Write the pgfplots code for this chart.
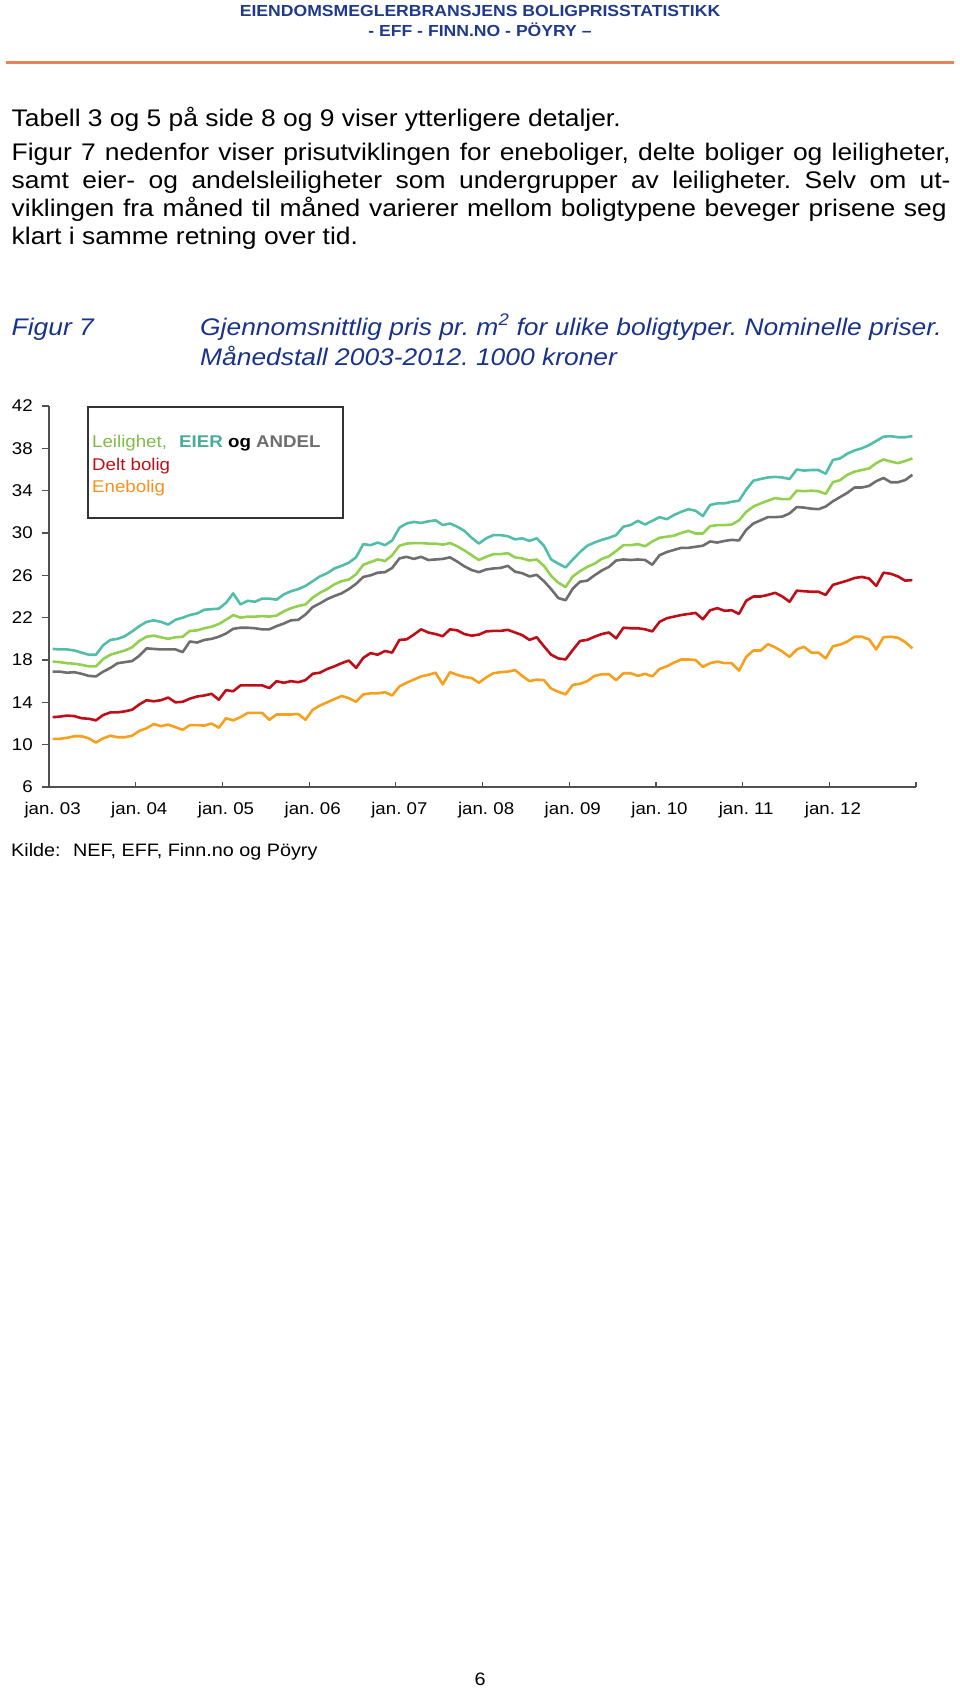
\documentclass[border=0pt]{standalone}
\usepackage{fontspec}
\setmainfont[FakeStretch=1.1]{Liberation Sans}
\usepackage{pgfplots}
\usepackage{pgfplotstable}
\pgfplotsset{compat=1.18}
\frenchspacing

\definecolor{hdrblue}{RGB}{31,58,140}
\definecolor{capblue}{RGB}{25,50,140}
\definecolor{rulecol}{RGB}{232,130,90}
\definecolor{axgray}{RGB}{80,80,80}
\definecolor{eiercol}{RGB}{82,190,170}
\definecolor{leilcol}{RGB}{146,208,80}
\definecolor{andelcol}{RGB}{110,110,110}
\definecolor{deltcol}{RGB}{190,15,25}
\definecolor{enecol}{RGB}{247,160,30}

% month index (0 = jan. 03), 1000 kr per m2
\pgfplotstableread{
m eier leil andel delt ene
0 19.05 17.85 16.9 12.6 10.55
1 19.0 17.8 16.9 12.65 10.55
2 19.0 17.7 16.8 12.75 10.65
3 18.9 17.65 16.85 12.7 10.8
4 18.7 17.55 16.7 12.5 10.8
5 18.5 17.4 16.5 12.45 10.6
6 18.5 17.4 16.45 12.3 10.2
7 19.4 18.1 16.9 12.8 10.6
8 19.9 18.5 17.25 13.05 10.85
9 20.0 18.7 17.7 13.05 10.7
10 20.25 18.9 17.8 13.15 10.7
11 20.7 19.2 17.9 13.3 10.85
12 21.2 19.8 18.4 13.8 11.3
13 21.6 20.2 19.1 14.2 11.55
14 21.75 20.3 19.05 14.1 11.95
15 21.6 20.15 19.0 14.2 11.75
16 21.35 20.0 19.0 14.45 11.9
17 21.8 20.15 19.0 14.0 11.65
18 22.0 20.2 18.75 14.05 11.4
19 22.25 20.75 19.75 14.35 11.85
20 22.4 20.8 19.65 14.55 11.85
21 22.75 21.0 19.9 14.65 11.8
22 22.8 21.15 20.0 14.8 12.0
23 22.85 21.4 20.2 14.25 11.6
24 23.4 21.8 20.5 15.15 12.5
25 24.3 22.25 20.95 15.05 12.3
26 23.25 22.0 21.05 15.6 12.6
27 23.6 22.1 21.05 15.6 13.0
28 23.5 22.1 21.0 15.6 13.0
29 23.8 22.15 20.9 15.6 13.0
30 23.8 22.1 20.9 15.35 12.35
31 23.7 22.2 21.2 16.0 12.85
32 24.2 22.6 21.45 15.85 12.85
33 24.5 22.9 21.75 16.0 12.85
34 24.7 23.1 21.8 15.9 12.9
35 25.0 23.25 22.3 16.1 12.35
36 25.45 23.9 23.0 16.7 13.3
37 25.9 24.35 23.35 16.8 13.7
38 26.2 24.7 23.75 17.15 14.0
39 26.65 25.15 24.05 17.4 14.3
40 26.9 25.45 24.3 17.7 14.6
41 27.2 25.6 24.7 17.95 14.4
42 27.7 26.1 25.2 17.25 14.05
43 28.95 27.0 25.85 18.2 14.75
44 28.85 27.25 26.0 18.65 14.85
45 29.1 27.5 26.25 18.5 14.85
46 28.85 27.35 26.3 18.85 14.95
47 29.3 27.9 26.7 18.7 14.65
48 30.5 28.8 27.6 19.9 15.5
49 30.9 29.0 27.75 19.95 15.85
50 31.05 29.05 27.55 20.4 16.15
51 30.95 29.05 27.75 20.9 16.45
52 31.1 29.0 27.45 20.6 16.6
53 31.2 29.0 27.5 20.45 16.8
54 30.75 28.9 27.55 20.25 15.7
55 30.9 29.05 27.7 20.9 16.85
56 30.6 28.75 27.3 20.8 16.6
57 30.2 28.35 26.85 20.45 16.4
58 29.55 27.9 26.5 20.3 16.3
59 29.0 27.45 26.3 20.4 15.85
60 29.5 27.75 26.55 20.7 16.35
61 29.8 28.0 26.65 20.75 16.75
62 29.8 28.0 26.7 20.75 16.85
63 29.7 28.1 26.9 20.85 16.9
64 29.4 27.7 26.35 20.6 17.05
65 29.5 27.6 26.2 20.35 16.5
66 29.25 27.4 25.9 19.9 16.0
67 29.5 27.5 26.05 20.15 16.15
68 28.8 26.9 25.45 19.3 16.1
69 27.5 25.95 24.7 18.5 15.3
70 27.1 25.3 23.85 18.15 15.0
71 26.75 24.9 23.65 18.05 14.75
72 27.5 25.9 24.75 18.95 15.65
73 28.2 26.4 25.4 19.8 15.75
74 28.8 26.8 25.5 19.9 16.0
75 29.1 27.1 26.0 20.2 16.5
76 29.35 27.55 26.45 20.45 16.65
77 29.55 27.8 26.8 20.6 16.65
78 29.8 28.3 27.4 20.05 16.1
79 30.6 28.85 27.5 21.05 16.75
80 30.75 28.85 27.45 21.0 16.75
81 31.15 28.95 27.5 21.0 16.5
82 30.8 28.75 27.45 20.9 16.7
83 31.15 29.2 27.0 20.7 16.45
84 31.5 29.55 27.9 21.6 17.15
85 31.3 29.65 28.2 21.95 17.4
86 31.7 29.75 28.4 22.1 17.75
87 32.0 30.0 28.6 22.25 18.05
88 32.25 30.2 28.6 22.35 18.05
89 32.1 29.95 28.7 22.45 18.0
90 31.6 29.95 28.8 21.85 17.35
91 32.65 30.65 29.2 22.7 17.7
92 32.8 30.75 29.1 22.9 17.85
93 32.8 30.75 29.25 22.65 17.7
94 32.95 30.8 29.35 22.7 17.7
95 33.05 31.2 29.3 22.35 17.0
96 34.1 32.0 30.3 23.6 18.3
97 34.95 32.5 30.9 24.0 18.9
98 35.1 32.8 31.2 24.0 18.9
99 35.25 33.05 31.5 24.15 19.5
100 35.3 33.3 31.5 24.35 19.2
101 35.25 33.2 31.55 24.0 18.8
102 35.1 33.2 31.85 23.5 18.3
103 36.0 34.0 32.45 24.55 19.0
104 35.9 33.95 32.4 24.5 19.25
105 35.95 34.0 32.3 24.45 18.7
106 35.95 33.95 32.25 24.45 18.7
107 35.6 33.7 32.5 24.15 18.15
108 36.9 34.8 33.0 25.1 19.3
109 37.05 35.0 33.4 25.3 19.45
110 37.5 35.5 33.8 25.5 19.75
111 37.8 35.8 34.3 25.75 20.2
112 38.0 35.95 34.3 25.85 20.2
113 38.3 36.1 34.45 25.7 19.95
114 38.7 36.6 34.9 25.0 19.0
115 39.1 36.95 35.2 26.25 20.15
116 39.15 36.75 34.8 26.15 20.2
117 39.05 36.6 34.8 25.9 20.1
118 39.05 36.8 35.0 25.5 19.7
119 39.15 37.05 35.5 25.55 19.1
}\prisdata

\newcommand\bodyfont{\fontsize{24}{27.8}\selectfont}
\newcommand\tickfont{\fontsize{17}{20}\selectfont}

\begin{document}
\begin{tikzpicture}[x=1pt,y=-1pt]
\path[use as bounding box] (0,0) rectangle (960,1694);

% page header
\node[anchor=base,inner sep=0,text=hdrblue,font=\fontsize{16}{19}\selectfont\bfseries] at (480,17) {EIENDOMSMEGLERBRANSJENS BOLIGPRISSTATISTIKK};
\node[anchor=base,inner sep=0,text=hdrblue,font=\fontsize{16}{19}\selectfont\bfseries] at (480,37) {- EFF - FINN.NO - PÖYRY --};
\draw[rulecol,line width=3] (6,63) -- (954,63);

% body text
\node[anchor=base west,inner sep=0,font=\bodyfont] at (11.5,126.7) {Tabell 3 og 5 på side 8 og 9 viser ytterligere detaljer.};
\node[anchor=base west,inner sep=0,font=\bodyfont] at (11.5,160.7) {\makebox[939pt][s]{Figur 7 nedenfor viser prisutviklingen for eneboliger, delte boliger og leiligheter,}};
\node[anchor=base west,inner sep=0,font=\bodyfont] at (11.5,188.5) {\makebox[939pt][s]{samt eier- og andelsleiligheter som undergrupper av leiligheter. Selv om ut-}};
\node[anchor=base west,inner sep=0,font=\bodyfont] at (11.5,216.5) {\makebox[935pt][s]{viklingen fra måned til måned varierer mellom boligtypene beveger prisene seg}};
\node[anchor=base west,inner sep=0,font=\bodyfont] at (11.5,244.2) {klart i samme retning over tid.};

% figure caption
\node[anchor=base west,inner sep=0,text=capblue,font=\bodyfont\itshape] at (11.5,335) {Figur 7};
\node[anchor=base west,inner sep=0,text=capblue,font=\bodyfont\itshape] at (200,335) {Gjennomsnittlig pris pr. m\textsuperscript{2} for ulike boligtyper. Nominelle priser.};
\node[anchor=base west,inner sep=0,text=capblue,font=\bodyfont\itshape] at (200,365) {Månedstall 2003-2012. 1000 kroner};

\begin{axis}[
  at={(49pt,-787pt)}, anchor=south west,
  scale only axis, width=867pt, height=381pt,
  xmin=-0.5, xmax=119.5, ymin=6, ymax=42,
  axis x line*=bottom, axis y line*=left,
  axis line style={draw=axgray,line width=1.3pt},
  tick align=inside,
  ytick={6,10,...,42},
  major tick length=7pt, minor tick length=5pt,
  major y tick style={draw=axgray,line width=1.2pt,xshift=-7pt},
  xtick={0,12,...,108},
  xticklabels={jan. 03,jan. 04,jan. 05,jan. 06,jan. 07,jan. 08,jan. 09,jan. 10,jan. 11,jan. 12},
  major x tick style={draw=none},
  minor xtick={-0.5,11.5,...,119.5},
  minor x tick style={draw=axgray,line width=1.2pt},
  /pgf/number format/assume math mode=true,
  yticklabel style={font=\tickfont,anchor=east,inner sep=0pt,xshift=-16pt},
  xticklabel style={font=\tickfont,anchor=north,inner sep=0pt,yshift=-15pt},
  every axis plot/.append style={line width=2.6pt,no markers,line join=round},
]
\addplot[andelcol] table[x=m,y=andel] {\prisdata};
\addplot[leilcol] table[x=m,y=leil] {\prisdata};
\addplot[eiercol] table[x=m,y=eier] {\prisdata};
\addplot[enecol] table[x=m,y=ene] {\prisdata};
\addplot[deltcol] table[x=m,y=delt] {\prisdata};
\end{axis}

% legend box
\draw[black!80,line width=1.2] (88,407) rectangle (343,518);
\node[anchor=base west,inner sep=0,font=\tickfont,text=leilcol!90!black] at (92,447) {Leilighet,};
\node[anchor=base west,inner sep=0,font=\tickfont\bfseries,text=eiercol!90!black] at (179,447) {EIER};
\node[anchor=base west,inner sep=0,font=\tickfont\bfseries] at (228,447) {og};
\node[anchor=base west,inner sep=0,font=\tickfont\bfseries,text=andelcol] at (256,447) {ANDEL};
\node[anchor=base west,inner sep=0,font=\tickfont,text=deltcol] at (92,470) {Delt bolig};
\node[anchor=base west,inner sep=0,font=\tickfont,text=enecol!90!red] at (92,492) {Enebolig};

% source and page number
\node[anchor=base west,inner sep=0,font=\fontsize{18}{21}\selectfont] at (11,856) {Kilde:};
\node[anchor=base west,inner sep=0,font=\fontsize{18}{21}\selectfont] at (73,856) {NEF, EFF, Finn.no og Pöyry};
\node[anchor=base,inner sep=0,font=\fontsize{18}{21}\selectfont] at (480,1685) {6};
\end{tikzpicture}
\end{document}
